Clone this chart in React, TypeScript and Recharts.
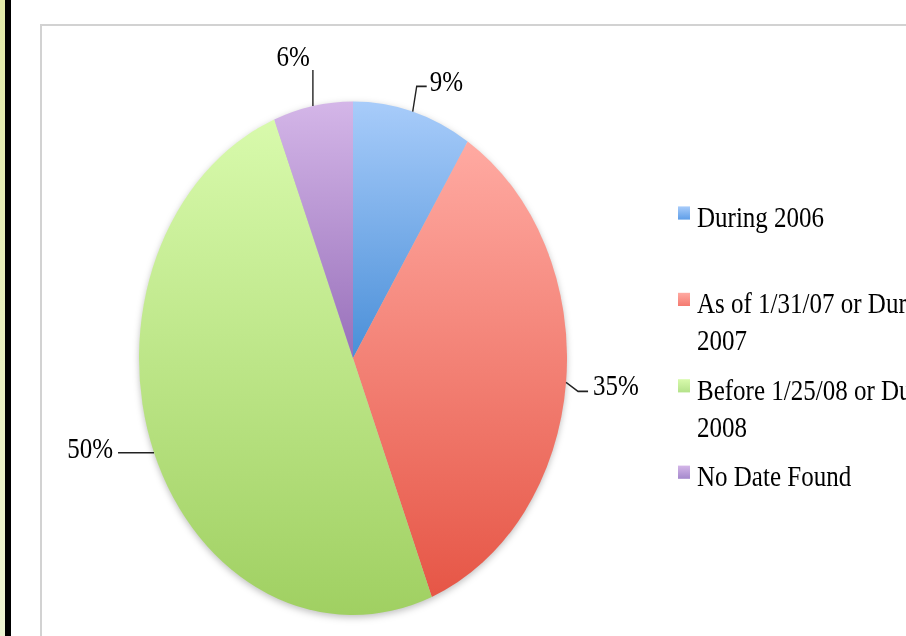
import React from 'react';
import { PieChart, Pie, Cell, Legend } from 'recharts';

const categories = [
  'During 2006',
  'As of 1/31/07 or During 2007',
  'Before 1/25/08 or During 2008',
  'No Date Found',
];
const values = [9, 35, 50, 6];
const gradTop = ['#a8ccfa', '#ffaaa2', '#d8faac', '#d4b6e8'];
const gradBottom = ['#4a8fd8', '#e65646', '#a0d062', '#9870ba'];
const legendColors = ['#5e9ee8', '#f47a70', '#b4e28a', '#a488cc'];

// leader-line shapes per slice (px, unscaled space)
const leaders = [
  { ex: 4, ey: -21, run: 10, gap: 3, anchor: 'start', dy: 4 },
  { ex: 12, ey: 7.5, run: 10, gap: 5, anchor: 'start', dy: 3 },
  { ex: 0, ey: 0, run: -36, gap: 5, anchor: 'end', dy: 4 },
  { ex: 0, ey: -30, run: 0, gap: 3, anchor: 'end', dy: -3 },
];

const data = categories.map((name, i) => ({ name, value: values[i] }));

const SCALE_Y = 1.2;
const FONT = '"Liberation Serif", "Times New Roman", serif';
const RAD = Math.PI / 180;

const renderLabel = (props: any) => {
  const { cx, cy, midAngle, outerRadius, percent, index } = props;
  const L = leaders[index];
  const x0 = cx + outerRadius * Math.cos(-midAngle * RAD);
  const y0 = cy + outerRadius * Math.sin(-midAngle * RAD);
  const x1 = x0 + L.ex;
  const y1 = y0 + L.ey;
  const x2 = x1 + L.run;
  const tx = L.anchor === 'start' ? x2 + L.gap : x2 - L.gap;
  return (
    <g key={`lab-${index}`}>
      <polyline
        points={`${x0},${y0} ${x1},${y1} ${x2},${y1}`}
        fill="none"
        stroke="#222"
        strokeWidth={1.4}
      />
      <text
        x={tx}
        y={y1 + L.dy}
        textAnchor={L.anchor}
        fontFamily={FONT}
        fontSize={25}
        fill="#000"
      >
        {`${Math.round(percent * 100)}%`}
      </text>
    </g>
  );
};

const renderLegend = () => {
  return (
    <div style={{ fontFamily: FONT, fontSize: 25, lineHeight: '31px', color: '#000' }}>
      {categories.map((name: string, i: number) => (
        <div
          key={name}
          style={{ position: 'relative', height: i < categories.length - 1 ? 72 : 40, paddingLeft: 19 }}
        >
          <span
            style={{
              position: 'absolute',
              left: 0,
              top: 7,
              width: 12,
              height: 11,
              background: `linear-gradient(${gradTop[i]}, ${legendColors[i]})`,
            }}
          />
          <div style={{ width: 262 }}>{name}</div>
        </div>
      ))}
    </div>
  );
};

export default function App() {
  return (
    <div
      style={{
        position: 'absolute',
        left: 0,
        top: 0,
        width: 906,
        height: 636,
        overflow: 'hidden',
        background: '#fff',
      }}
    >
      <style>{`.recharts-pie{filter: drop-shadow(0px 2px 3px rgba(0,0,0,0.25));}`}</style>
      <div
        style={{
          position: 'absolute',
          left: 0,
          top: 0,
          width: 5,
          height: 636,
          background: 'linear-gradient(#e2eaa8, #eef4d2)',
        }}
      />
      <div style={{ position: 'absolute', left: 5, top: 0, width: 5.5, height: 636, background: '#000' }} />
      <div
        style={{
          position: 'absolute',
          left: 40,
          top: 24,
          width: 900,
          height: 700,
          borderLeft: '2px solid #d2d2d2',
          borderTop: '2px solid #d2d2d2',
        }}
      />
      <div
        style={{
          position: 'absolute',
          left: 0,
          top: 0,
          width: 906,
          height: 530,
          transform: `scaleY(${SCALE_Y})`,
          transformOrigin: '0 0',
        }}
      >
        <PieChart width={906} height={530} margin={{ top: 0, right: 0, bottom: 0, left: 0 }}>
          <defs>
            {categories.map((c, i) => (
              <linearGradient key={c} id={`g${i}`} x1="0" y1="0" x2="0" y2="1">
                <stop offset="0%" stopColor={gradTop[i]} />
                <stop offset="100%" stopColor={gradBottom[i]} />
              </linearGradient>
            ))}
          </defs>
          <Pie
            data={data}
            dataKey="value"
            nameKey="name"
            cx={353}
            cy={298.5}
            outerRadius={214}
            startAngle={90}
            endAngle={-270}
            stroke="none"
            label={renderLabel}
            labelLine={false}
            isAnimationActive={false}
          >
            {data.map((d, i) => (
              <Cell key={d.name} fill={`url(#g${i})`} />
            ))}
          </Pie>
          <Legend
            layout="vertical"
            verticalAlign="top"
            align="right"
            content={renderLegend}
            wrapperStyle={{ position: 'absolute', left: 678, top: 165, width: 300, right: 'auto' }}
          />
        </PieChart>
      </div>
    </div>
  );
}
